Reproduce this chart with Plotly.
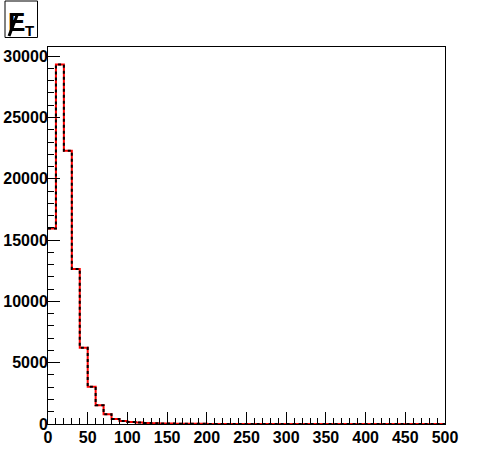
import plotly.graph_objects as go

# Histogram of missing transverse energy, 10-unit bins from 0 to 500
bin_low_edges = list(range(0, 500, 10))
counts = [
    15950, 29320, 22280, 12640, 6220, 3040, 1520, 790, 410, 245,
    170, 120, 85, 60, 45, 32, 25, 18, 14, 11,
    9, 7, 6, 5, 4, 3, 3, 2, 2, 2,
    1, 1, 1, 1, 1, 1, 1, 0, 0, 1,
    0, 0, 0, 0, 0, 0, 0, 0, 0, 0,
]
x_tick_vals = [0, 50, 100, 150, 200, 250, 300, 350, 400, 450, 500]
y_tick_vals = [0, 5000, 10000, 15000, 20000, 25000, 30000]

x_step = bin_low_edges + [500]
y_step = counts + [counts[-1]]

fig = go.Figure()
fig.add_trace(go.Scatter(x=x_step, y=y_step, mode="lines", line_shape="hv",
                         line=dict(color="#ff0000", width=2), showlegend=False,
                         hoverinfo="skip"))
fig.add_trace(go.Scatter(x=x_step, y=y_step, mode="lines", line_shape="hv",
                         line=dict(color="#000000", width=2, dash="3px,3px"),
                         showlegend=False))

W, H = 496, 472
L, T_, PW, PH = 48, 47, 397, 377
R = W - L - PW
B = H - T_ - PH

def px(x):
    return (x - L) / PW

def py(y):
    return (T_ + PH - y) / PH

FAM = "Liberation Sans, Arial, sans-serif"
tickfont = dict(family=FAM, size=16, color="black", weight="bold")

fig.update_layout(
    width=W, height=H,
    margin=dict(l=L, r=R, t=T_, b=B, pad=0, autoexpand=False),
    paper_bgcolor="white", plot_bgcolor="white",
    font=dict(family=FAM, size=16, color="black"),
    xaxis=dict(range=[0, 500], tickvals=x_tick_vals, ticktext=[str(v) for v in x_tick_vals],
               ticks="inside", ticklen=12, tickcolor="black", tickwidth=1,
               minor=dict(dtick=10, ticks="inside", ticklen=6, tickcolor="black"),
               showline=True, linecolor="black", linewidth=1, mirror=True,
               showgrid=False, zeroline=False, automargin=False,
               ticklabelstandoff=-1, tickfont=tickfont),
    yaxis=dict(range=[0, 30750], tickvals=y_tick_vals, ticktext=[str(v) for v in y_tick_vals],
               ticks="inside", ticklen=12, tickcolor="black", tickwidth=1,
               minor=dict(dtick=1000, ticks="inside", ticklen=6, tickcolor="black"),
               showline=True, linecolor="black", linewidth=1, mirror=True,
               showgrid=False, zeroline=False, ticklabelstandoff=-4, automargin=False,
               tickfont=tickfont),
)

# Title box with E-slash_T
fig.add_shape(type="rect", xref="paper", yref="paper",
              x0=px(5), x1=px(37.5), y0=py(37.5), y1=py(1),
              line=dict(color="black", width=1), fillcolor="white", layer="above")
fig.add_annotation(xref="paper", yref="paper", x=px(16), y=py(22), text="<b>E</b>",
                   showarrow=False, xanchor="center", yanchor="middle",
                   font=dict(family=FAM, size=26, color="black"))
fig.add_shape(type="line", xref="paper", yref="paper",
              x0=px(9), y0=py(36), x1=px(17.5), y1=py(14),
              line=dict(color="black", width=3), layer="above")
fig.add_annotation(xref="paper", yref="paper", x=px(29), y=py(31), text="<b>T</b>",
                   showarrow=False, xanchor="center", yanchor="middle",
                   font=dict(family=FAM, size=15, color="black"))

# the page's default 8px body margin would shift the figure; remove it
fig.write_html("out.html", config={"displayModeBar": False},
               post_script="document.body.style.margin='0px';")
